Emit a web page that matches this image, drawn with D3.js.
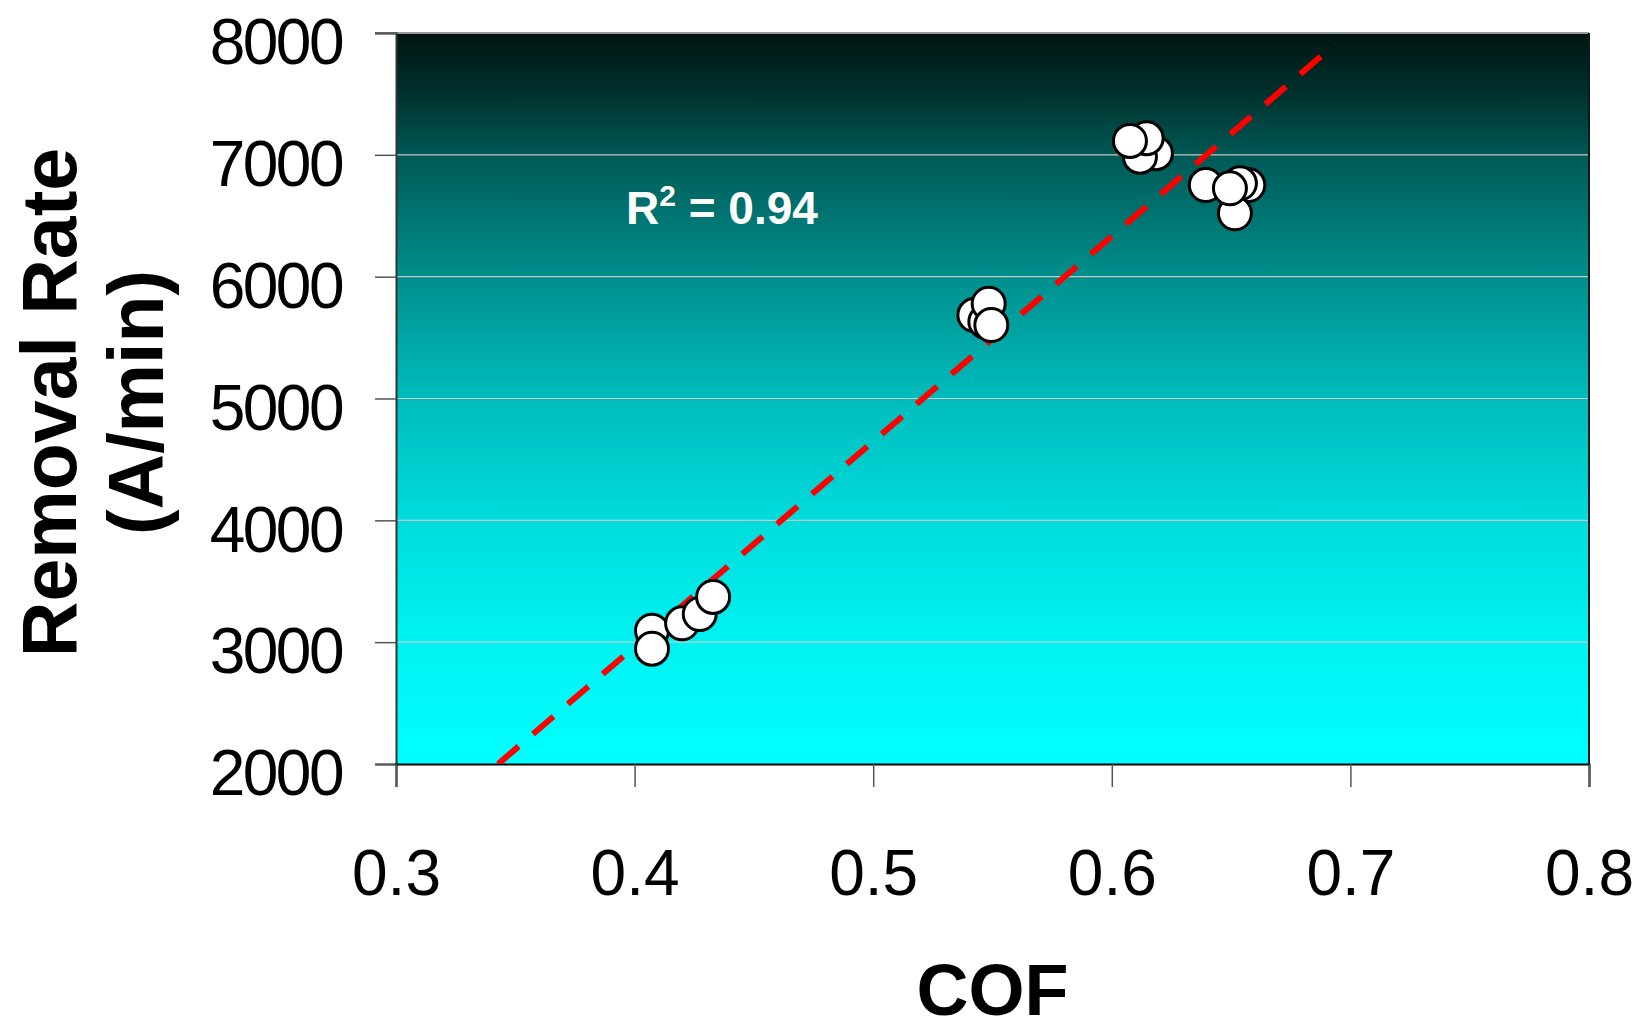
<!DOCTYPE html>
<html>
<head>
<meta charset="utf-8">
<script src="https://cdn.jsdelivr.net/npm/d3@7"></script>
<style>
  html, body { margin: 0; padding: 0; background: #fff; }
  svg { display: block; }
  text { font-family: "Liberation Sans", Arial, sans-serif; }
</style>
</head>
<body>
<svg id="chart" width="1641" height="1031"></svg>
<script>
// ---- data ----
const cofValues = [0.4073, 0.4073, 0.4199, 0.4273, 0.4329,
                   0.5424, 0.5470, 0.5484, 0.5495,
                   0.6185, 0.6118, 0.6146, 0.6076,
                   0.6572, 0.6537, 0.6516, 0.6394, 0.6495];
const removalRates = [3094, 2946, 3155, 3231, 3371,
                      5685, 5630, 5778, 5603,
                      7013, 6985, 7136, 7114,
                      6752, 6766, 6520, 6752, 6725];
const trendX = [0.3428, 0.6937];
const trendY = [2000, 7910];
const xTicks = [0.3, 0.4, 0.5, 0.6, 0.7, 0.8];
const yTicks = [2000, 3000, 4000, 5000, 6000, 7000, 8000];
const xTitle = "COF";
const yTitleLines = ["Removal Rate", "(A/min)"];
const r2Label = { base: "R", sup: "2", rest: " = 0.94" };

// ---- layout ----
const svg = d3.select("#chart");
const plot = { left: 396, right: 1589, top: 33, bottom: 764 };

const x = d3.scaleLinear().domain([0.3, 0.8]).range([plot.left, plot.right]);
const y = d3.scaleLinear().domain([2000, 8000]).range([plot.bottom, plot.top]);

// gradient background
const defs = svg.append("defs");
const grad = defs.append("linearGradient").attr("id", "bg")
  .attr("x1", 0).attr("y1", 0).attr("x2", 0).attr("y2", 1);
[[0, "#001512"], [0.08, "#00302c"], [0.17, "#005a56"], [0.33, "#008e8c"],
 [0.5, "#00bcbc"], [0.67, "#00dcdc"], [0.83, "#00f2f2"], [1, "#00ffff"]]
  .forEach(([o, c]) => grad.append("stop").attr("offset", o).attr("stop-color", c));

defs.append("clipPath").attr("id", "clip").append("rect")
  .attr("x", plot.left).attr("y", plot.top)
  .attr("width", plot.right - plot.left).attr("height", plot.bottom - plot.top);

svg.append("rect")
  .attr("x", plot.left).attr("y", plot.top)
  .attr("width", plot.right - plot.left).attr("height", plot.bottom - plot.top)
  .attr("fill", "url(#bg)");

// gridlines
svg.append("g").selectAll("line")
  .data(yTicks.filter(d => d > 2000 && d < 8000))
  .join("line")
  .attr("x1", plot.left).attr("x2", plot.right)
  .attr("y1", d => y(d)).attr("y2", d => y(d))
  .attr("stroke", "#c8c8c8").attr("stroke-width", 1.2);

// top border
svg.append("line")
  .attr("x1", plot.left - 21).attr("x2", plot.right)
  .attr("y1", y(8000)).attr("y2", y(8000))
  .attr("stroke", "#9a9a9a").attr("stroke-width", 2);
// right border
svg.append("line")
  .attr("x1", plot.right).attr("x2", plot.right)
  .attr("y1", plot.top).attr("y2", plot.bottom)
  .attr("stroke", "#0a1a1a").attr("stroke-width", 2);

// axes
const yAxis = d3.axisLeft(y).tickValues(yTicks).tickSize(21).tickPadding(33)
  .tickFormat(d3.format("d"));
const gy = svg.append("g").attr("transform", `translate(${plot.left},0)`).call(yAxis);
gy.select(".domain").attr("stroke", "#333").attr("stroke-width", 2);
gy.selectAll(".tick line").attr("stroke", "#555").attr("stroke-width", 1.5);
gy.selectAll(".tick text").attr("font-size", 64).attr("fill", "#000")
  .attr("letter-spacing", -2.5).attr("dy", "0.48em");

const xAxis = d3.axisBottom(x).tickValues(xTicks).tickSize(23).tickPadding(63)
  .tickFormat(d3.format(".1f"));
const gx = svg.append("g").attr("transform", `translate(0,${plot.bottom})`).call(xAxis);
gx.select(".domain").attr("stroke", "#000").attr("stroke-width", 2);
gx.selectAll(".tick line").attr("stroke", "#555").attr("stroke-width", 1.5);
gx.selectAll(".tick text").attr("font-size", 64).attr("fill", "#000");

svg.selectAll(".domain").attr("fill", "none");

// trend line
svg.append("line")
  .attr("clip-path", "url(#clip)")
  .attr("x1", x(trendX[0])).attr("y1", y(trendY[0]))
  .attr("x2", x(trendX[1])).attr("y2", y(trendY[1]))
  .attr("stroke", "#FF0000").attr("stroke-width", 6)
  .attr("stroke-dasharray", "27,19");

// points
const pts = cofValues.map((c, i) => ({ c, r: removalRates[i] }));
svg.append("g").selectAll("circle")
  .data(pts).join("circle")
  .attr("cx", d => x(d.c)).attr("cy", d => y(d.r))
  .attr("r", 16.5)
  .attr("fill", "#fff").attr("stroke", "#000").attr("stroke-width", 3);

// R² label
const rt = svg.append("text")
  .attr("x", 626).attr("y", 224)
  .attr("font-size", 46).attr("font-weight", "bold").attr("fill", "#fff");
rt.append("tspan").text(r2Label.base);
rt.append("tspan").attr("font-size", 30).attr("dy", -18).text(r2Label.sup);
rt.append("tspan").attr("dy", 18).text(r2Label.rest);

// axis titles
svg.append("text")
  .attr("x", (plot.left + plot.right) / 2).attr("y", 1015)
  .attr("text-anchor", "middle")
  .attr("font-size", 72).attr("font-weight", "bold").attr("fill", "#000")
  .text(xTitle);

const yt = svg.append("text")
  .attr("transform", `translate(76,${(plot.top + plot.bottom) / 2 + 4}) rotate(-90)`)
  .attr("text-anchor", "middle")
  .attr("font-size", 77).attr("font-weight", "bold").attr("fill", "#000");
yt.append("tspan").attr("x", 0).attr("y", 0).text(yTitleLines[0]);
yt.append("tspan").attr("x", 0).attr("y", 87).text(yTitleLines[1]);
</script>
</body>
</html>
